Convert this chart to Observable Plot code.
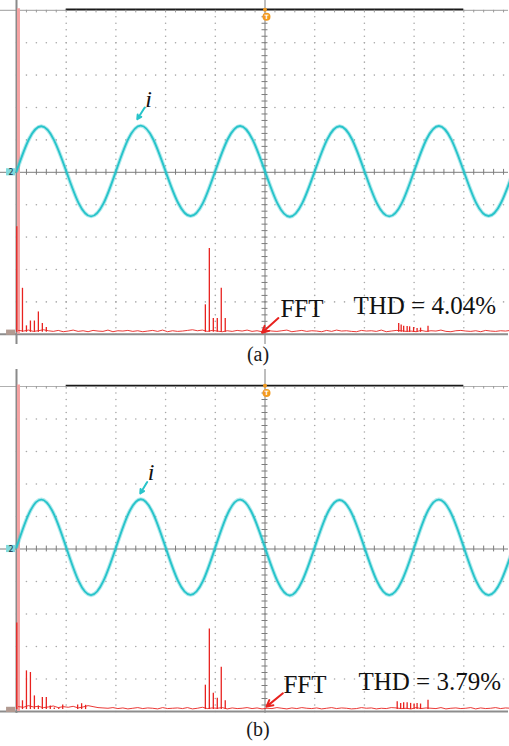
<!DOCTYPE html>
<html>
<head>
<meta charset="utf-8">
<script src="https://cdn.jsdelivr.net/npm/d3@7"></script>
<script src="https://cdn.jsdelivr.net/npm/@observablehq/plot@0.6"></script>
<style>
  html, body { margin: 0; padding: 0; background: #fff; overflow: hidden; width: 509px; height: 746px; }
  .wrap { position: absolute; left: 0; }
  .cap { position: absolute; left: 0; width: 516px; text-align: center; height: 24px; line-height: 24px;
         font-family: "Liberation Serif", "Times New Roman", serif; font-size: 20px; color: #1a1a1a; }
</style>
</head>
<body>
<div id="pa" class="wrap" style="top:0"></div>
<div id="pb" class="wrap" style="top:369px"></div>
<div class="cap" style="top:342px">(a)</div>
<div class="cap" style="top:717px">(b)</div>
<script>
// ---- time axis (divisions) of the current trace samples ----
const time = [0,0.25,0.5,0.75,1,1.25,1.5,1.75,2,2.25,2.5,2.75,3,3.25,3.5,3.75,4,4.25,4.5,4.75,
              5,5.25,5.5,5.75,6,6.25,6.5,6.75,7,7.25,7.5,7.75,8,8.25,8.5,8.75,9,9.25,9.5,9.75,10];

// ---- current i (divisions) ----
const waveA = [0.03,1.02,1.42,1.01,0.04,-0.95,-1.36,-0.96,
               0.03,1.03,1.44,1.02,0.03,-0.94,-1.35,-0.95,
               0.04,1.02,1.43,1.01,0.03,-0.96,-1.37,-0.95,
               0.03,1.01,1.42,1.02,0.04,-0.95,-1.36,-0.96,
               0.03,1.02,1.43,1.01,0.03,-0.95,-1.35,-0.94,0.04];
const waveB = [0.05,1.09,1.52,1.08,0.05,-0.99,-1.42,-0.98,
               0.04,1.08,1.53,1.09,0.05,-0.98,-1.41,-0.99,
               0.05,1.09,1.52,1.07,0.04,-0.99,-1.43,-0.98,
               0.05,1.08,1.51,1.08,0.05,-0.98,-1.42,-0.99,
               0.04,1.09,1.52,1.08,0.05,-0.99,-1.42,-0.98,0.05];

// ---- FFT spikes: position (div) and top level (div) ----
const spikeXA = [0.006,0.12,0.20,0.28,0.36,0.44,0.52,0.60,3.80,3.88,3.96,4.04,4.12,4.20,
                 7.69,7.74,7.79,7.86,7.91,7.99,8.06,8.13,8.28];
const spikeVA = [-1.68,-3.58,-4.74,-4.59,-4.59,-4.31,-4.67,-4.79,-4.09,-2.35,-4.51,-4.51,-3.58,-4.51,
                 -4.67,-4.71,-4.75,-4.76,-4.77,-4.79,-4.82,-4.81,-4.75];
const spikeXB = [0.006,0.12,0.20,0.28,0.36,0.44,0.52,0.60,0.68,0.76,0.85,0.93,1.23,1.31,1.39,
                 3.80,3.88,3.96,4.04,4.12,4.20,
                 7.66,7.73,7.79,7.86,7.93,8.00,8.06,8.13,8.28];
const spikeVB = [-2.28,-4.67,-3.75,-3.80,-4.52,-4.83,-4.57,-4.57,-4.83,-4.89,-4.89,-4.80,-4.80,-4.76,-4.81,
                 -4.19,-2.46,-4.44,-4.59,-3.64,-4.67,
                 -4.70,-4.75,-4.73,-4.73,-4.75,-4.77,-4.75,-4.77,-4.65];

// ---- FFT noise floor (hundredths of a division above the FFT baseline), one per 0.1 div bin ----
const noiseA = [6,4,7,3,5,8,
  5,3,6,2,4,7,3,5,2,6, 4,3,7,2,5,4,6,3,5,2, 4,6,3,7,2,5,3,4,6,8, 5,7,3,6,4,2,5,3,6,4,
  7,3,5,2,6,4,3,5,7,2, 4,6,3,5,4,2,6,3,7,4, 5,3,2,6,4,5,3,7,2,4, 6,5,3,4,2,6,3,5,4,7,
  3,2,5,6,4,3,5,2,6,4, 3,5,4,6,3];
const noiseB = [9,7,12,8,10,6,
  8,11,6,9,7,10,5,8,12,9, 6,5,4,6,3,5,2,4,6,3, 5,4,2,6,3,4,5,3,6,2, 4,7,3,5,4,6,2,5,3,4,
  6,3,5,2,4,3,6,4,2,5, 3,6,4,3,5,2,4,6,3,5, 4,2,3,6,4,5,2,4,3,6, 5,3,4,2,6,3,5,4,3,6,
  2,4,5,3,4,6,2,5,3,4, 6,3,5,4,3];

const thdLabels = ["THD = 4.04%", "THD = 3.79%"];
const fftLabel = "FFT";
const traceLabel = "i";
const channelLabel = "2";

// ---- styling ----
const CYAN = "#27c4ca", RED = "#e8221f", PINK = "#f5a3a3", ORANGE = "#f39a1e";
const FONT = "'Liberation Serif', 'Times New Roman', serif";
const fftBase = -4.94;

// scope graticule structure
const minorX = d3.range(0, 10.001, 0.2);
const minorY = d3.range(-5, 5.001, 0.2);
const gridV = [1,2,3,4,6,7,8,9].flatMap(k => minorY.map(j => [k, j]));
const gridH = [-4,-3,-2,-1,1,2,3,4].flatMap(k => minorX.map(j => [j, k]));

function panel(cfg) {
  const wave = time.map((t, i) => ({t, v: cfg.wave[i]}));
  const spikes = cfg.spikeX.map((x, i) => ({x, v: cfg.spikeV[i]}));
  const noise = cfg.noise.map((h, i) => ({x: 0.04 + i * 0.1, v: fftBase + h / 100}));
  const a = cfg.ann;
  return Plot.plot({
    width: 509,
    height: 345,
    x: {domain: [0, 10], range: [16, 513], axis: null},
    y: {domain: [-5, 5], range: cfg.yRange, axis: null},
    style: {background: "transparent", fontFamily: FONT},
    marks: [
      // dotted graticule
      Plot.dot(gridV, {x: d => d[0], y: d => d[1], r: 0.8, fill: "#a8a8a8"}),
      Plot.dot(gridH, {x: d => d[0], y: d => d[1], r: 0.8, fill: "#a8a8a8"}),
      // centre axes with minor ticks
      Plot.ruleY([0], {stroke: "#7c7c7c", strokeWidth: 1}),
      Plot.ruleX([5], {stroke: "#7c7c7c", strokeWidth: 1}),
      Plot.ruleX(minorX, {x: d => d, y1: -0.09, y2: 0.09, stroke: "#7c7c7c"}),
      Plot.ruleY(minorY, {y: d => d, x1: 4.94, x2: 5.06, stroke: "#7c7c7c"}),
      // frame
      Plot.ruleY([5], {stroke: "#b0b0b0", strokeWidth: 1.2}),
      Plot.ruleY([5.03], {x1: 1, x2: 9, stroke: "#1a1a1a", strokeWidth: 1.6}),
      Plot.ruleX(minorX, {x: d => d, y1: 5, y2: 4.92, stroke: "#9a9a9a"}),
      Plot.ruleY([-5], {stroke: "#8d8d8d", strokeWidth: 2}),
      Plot.ruleX([0], {stroke: "#8a8a8a", strokeWidth: 2}),
      Plot.ruleY(minorY, {y: d => d, x1: 0, x2: 0.07, stroke: "#8a8a8a"}),
      // FFT trace
      Plot.ruleX([0.04], {y1: -5, y2: 5.05, stroke: PINK, strokeWidth: 3}),
      Plot.line(noise, {x: "x", y: "v", stroke: RED, strokeWidth: 0.9}),
      Plot.ruleX(spikes, {x: "x", y1: fftBase, y2: "v", stroke: RED, strokeWidth: 1.3}),
      // current trace
      Plot.line(wave, {x: "t", y: "v", curve: "natural", stroke: CYAN, strokeWidth: 4, strokeOpacity: 0.35}),
      Plot.line(wave, {x: "t", y: "v", curve: "natural", stroke: CYAN, strokeWidth: 1.9}),
      // scope markers
      Plot.rect([0], {x1: -0.2, x2: -0.02, y1: -0.11, y2: 0.11, fill: "#7fdadd"}),
      Plot.text([channelLabel], {x: -0.11, y: 0, text: d => d, fontSize: 8, fill: "#234", fontFamily: "DejaVu Sans"}),
      Plot.rect([0], {x1: -0.2, x2: -0.02, y1: -5.03, y2: -4.87, fill: "#b29b92"}),
      Plot.dot([0], {x: 5, y: 5.02, r: 2, fill: ORANGE}),
      Plot.dot([0], {x: 5.03, y: 4.8, r: 4, fill: ORANGE}),
      Plot.text(["T"], {x: 5.03, y: 4.8, text: d => d, fontSize: 6, fill: "#fff", fontFamily: "DejaVu Sans", fontWeight: "bold"}),
      // annotations
      Plot.text([traceLabel], {x: a.ix, y: a.iy, text: d => d, fontSize: 24, fontStyle: "italic",
                               textAnchor: "middle", lineAnchor: "bottom", fill: "#111", fontFamily: FONT}),
      Plot.arrow([0], {x1: a.iax1, y1: a.iay1, x2: a.iax2, y2: a.iay2, stroke: CYAN, strokeWidth: 2, headLength: 7, headAngle: 55}),
      Plot.text([fftLabel], {x: a.fx, y: a.fy, text: d => d, fontSize: 25, textAnchor: "start", lineAnchor: "bottom", fill: "#111", fontFamily: FONT}),
      Plot.text([cfg.thd], {x: a.tx, y: a.ty, text: d => d, fontSize: 25, textAnchor: "start", lineAnchor: "bottom", fill: "#111", fontFamily: FONT}),
      Plot.arrow([0], {x1: a.fax1, y1: a.fay1, x2: a.fax2, y2: a.fay2, stroke: RED, strokeWidth: 2, headLength: 7, headAngle: 55})
    ]
  });
}

document.getElementById("pa").append(panel({
  wave: waveA, spikeX: spikeXA, spikeV: spikeVA, noise: noiseA, thd: thdLabels[0],
  yRange: [333.8, 9.8],
  ann: {ix: 2.66, iy: 2.03, iax1: 2.58, iay1: 2.0, iax2: 2.43, iay2: 1.64,
        fx: 5.31, fy: -4.48, tx: 6.78, ty: -4.38, fax1: 5.27, fay1: -4.5, fax2: 4.94, fay2: -4.95}
}));
document.getElementById("pb").append(panel({
  wave: waveB, spikeX: spikeXB, spikeV: spikeVB, noise: noiseB, thd: thdLabels[1],
  yRange: [342, 17],
  ann: {ix: 2.71, iy: 2.11, iax1: 2.63, iay1: 2.06, iax2: 2.49, iay2: 1.71,
        fx: 5.37, fy: -4.42, tx: 6.88, ty: -4.34, fax1: 5.36, fay1: -4.44, fax2: 5.03, fay2: -4.85}
}));
</script>
</body>
</html>
